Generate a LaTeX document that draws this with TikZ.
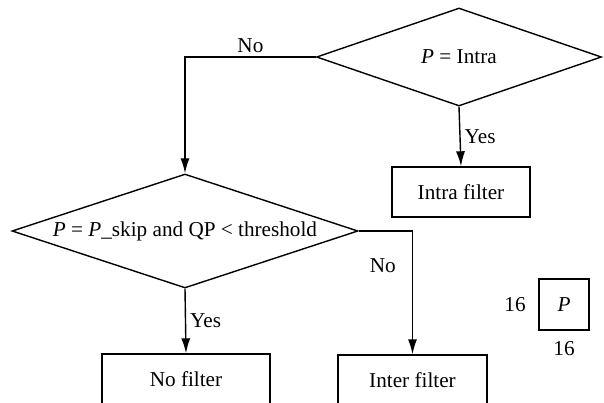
\documentclass[tikz,border=0pt]{standalone}
\usepackage{fontspec}
\setmainfont{Liberation Serif}
\usetikzlibrary{shapes.geometric,arrows.meta}
\begin{document}
\begin{tikzpicture}[x=0.5pt,y=-0.5pt,>={Latex[length=7.5pt,width=4.5pt]},line width=0.7pt,
  dec/.style={draw,diamond,aspect=2.9,inner sep=0pt},
  box/.style={draw,rectangle,inner sep=0pt},
  lbl/.style={inner sep=2pt,font=\fontsize{10.6}{12.7}\selectfont}]
  \clip (0,0) rectangle (604,402);
  \node[dec,minimum width=142.5pt,minimum height=49pt,lbl] (intra) at (459,57){\textit{P} = Intra};
  \node[dec,minimum width=173pt,minimum height=57pt,aspect=3.03,lbl,inner sep=-2pt] (skip) at (185,231){\textit{P} = \textit{P}\_skip and QP < threshold};
  \node[box,minimum width=69pt,minimum height=25pt,lbl] (intraf) at (461,192){Intra filter};
  \node[box,minimum width=84pt,minimum height=25pt,lbl] (nof) at (186,379){No filter};
  \node[box,minimum width=74.5pt,minimum height=25pt,lbl] (interf) at (412.5,380){Inter filter};
  \node[box,minimum width=25pt,minimum height=25.5pt,lbl] (blk) at (564,304.5){\textit{P}};
  \node[lbl,left=4pt] at (blk.west){16};
  \node[lbl,below=3pt] at (blk.south){16};
  \draw[->] (intra.west) -| node[pos=0.25,above,lbl]{No} (skip.north);
  \draw[->] (intra.south) -- node[right,lbl]{Yes} (intraf.north);
  \draw[->] (skip.south) -- node[right,lbl]{Yes} (nof.north);
  \draw[->] (skip.east) -| node[pos=0.64,left=6pt,lbl]{No} (interf.north);
\end{tikzpicture}
\end{document}
